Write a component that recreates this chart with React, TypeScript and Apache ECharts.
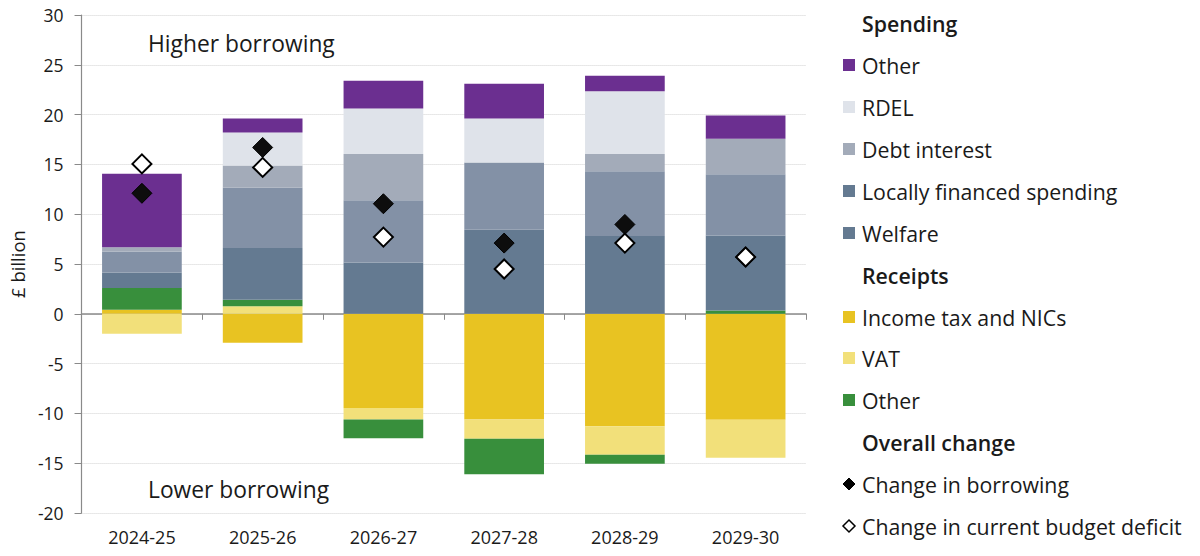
import React, { useEffect, useRef } from "react";
import * as echarts from "echarts";

const categories = ["2024-25", "2025-26", "2026-27", "2027-28", "2028-29", "2029-30"];

const incomeTax = [0.4, -2.9, -9.45, -10.6, -11.3, -10.65];
const vat = [-2.0, 0.75, -1.15, -1.95, -2.85, -3.8];
const otherReceipts = [2.18, 0.65, -1.9, -3.55, -0.9, 0.33];
const welfare = [1.57, 5.2, 5.15, 8.45, 7.8, 7.53];
const locallyFinanced = [2.1, 6.05, 6.25, 6.75, 6.5, 6.14];
const debtInterest = [0.44, 2.25, 4.65, 0, 1.75, 3.57];
const rdel = [0, 3.3, 4.55, 4.4, 6.29, 0];
const otherSpending = [7.37, 1.4, 2.8, 3.5, 1.55, 2.33];

const changeInBorrowing = [12.1, 16.7, 11.05, 7.1, 8.97, 5.7];
const changeInCBD = [15.05, 14.7, 7.7, 4.5, 7.1, 5.7];

const yTicks = { min: -20, max: 30, interval: 5 };

const FONT = "'Open Sans', Lato, sans-serif";
const TEXT = "#1a1a1a";

const C = {
  otherSpending: "#6b2f90",
  rdel: "#dfe3ea",
  debtInterest: "#a3abb9",
  locallyFinanced: "#8391a6",
  welfare: "#647a91",
  incomeTax: "#e8c322",
  vat: "#f2e07a",
  otherReceipts: "#388f3c",
};

export default function App() {
  const ref = useRef<HTMLDivElement>(null);

  useEffect(() => {
    if (!ref.current) return;
    const chart = echarts.init(ref.current, undefined, { renderer: "svg" });

    const barSeries = (name: string, data: number[], color: string) => ({
      name,
      type: "bar",
      stack: "total",
      data,
      barWidth: "66%",
      xAxisIndex: 0,
      yAxisIndex: 0,
      itemStyle: { color },
      emphasis: { disabled: true },
    });

    const legendX = 843;
    const textX = 862;
    const rows: { y: number; label: string; kind: string; color?: string }[] = [
      { y: 23, label: "Spending", kind: "header" },
      { y: 65, label: "Other", kind: "rect", color: C.otherSpending },
      { y: 107, label: "RDEL", kind: "rect", color: C.rdel },
      { y: 149, label: "Debt interest", kind: "rect", color: C.debtInterest },
      { y: 191, label: "Locally financed spending", kind: "rect", color: C.welfare },
      { y: 233, label: "Welfare", kind: "rect", color: C.welfare },
      { y: 275, label: "Receipts", kind: "header" },
      { y: 317, label: "Income tax and NICs", kind: "rect", color: C.incomeTax },
      { y: 358, label: "VAT", kind: "rect", color: C.vat },
      { y: 400, label: "Other", kind: "rect", color: C.otherReceipts },
      { y: 442, label: "Overall change", kind: "header" },
      { y: 484, label: "Change in borrowing", kind: "diamondBlack" },
      { y: 526, label: "Change in current budget deficit", kind: "diamondWhite" },
    ];

    const graphics: any[] = [];
    rows.forEach((r) => {
      graphics.push({
        type: "text",
        x: textX,
        y: r.y,
        style: {
          text: r.label,
          fill: TEXT,
          font: `${r.kind === "header" ? "600 " : ""}21.3px ${FONT}`,
          verticalAlign: "middle",
          align: "left",
        },
      });
      if (r.kind === "rect") {
        graphics.push({
          type: "rect",
          shape: { x: legendX, y: r.y - 6, width: 12, height: 12 },
          style: { fill: r.color },
        });
      } else if (r.kind === "diamondBlack" || r.kind === "diamondWhite") {
        const cx = legendX + 6;
        graphics.push({
          type: "polygon",
          shape: {
            points: [
              [cx, r.y - 6],
              [cx + 6, r.y],
              [cx, r.y + 6],
              [cx - 6, r.y],
            ],
          },
          style:
            r.kind === "diamondBlack"
              ? { fill: "#000000", stroke: "#000000", lineWidth: 1 }
              : { fill: "#ffffff", stroke: "#000000", lineWidth: 1.5 },
        });
      }
    });

    graphics.push({
      type: "text",
      x: 148,
      y: 43,
      style: { text: "Higher borrowing", fill: TEXT, font: `22.8px ${FONT}`, verticalAlign: "middle" },
    });
    graphics.push({
      type: "text",
      x: 148,
      y: 489,
      style: { text: "Lower borrowing", fill: TEXT, font: `22.8px ${FONT}`, verticalAlign: "middle" },
    });

    chart.setOption({
      animation: false,
      textStyle: { fontFamily: FONT },
      grid: { left: 77, right: 394, top: 15, bottom: 43, containLabel: false },
      xAxis: [
        {
          type: "category",
          data: categories,
          position: "bottom",
          axisLine: { show: false, onZero: false },
          axisTick: { show: false },
          axisLabel: { color: TEXT, fontSize: 18, margin: 15, fontFamily: FONT },
          splitLine: { show: false },
        },
        {
          type: "category",
          data: categories,
          position: "top",
          axisLine: { show: true, onZero: true, lineStyle: { color: "#8a8a8a", width: 1.5 } },
          axisTick: { show: true, inside: true, length: 6, lineStyle: { color: "#8a8a8a" } },
          axisLabel: { show: false },
          splitLine: { show: false },
        },
      ],
      yAxis: {
        type: "value",
        min: yTicks.min,
        max: yTicks.max,
        interval: yTicks.interval,
        name: "£ billion",
        nameLocation: "middle",
        nameGap: 48,
        nameRotate: 90,
        nameTextStyle: { color: TEXT, fontSize: 18.5, fontFamily: FONT },
        axisLine: { show: true, lineStyle: { color: "#8a8a8a", width: 1.2 } },
        axisTick: { show: true, length: 7, lineStyle: { color: "#8a8a8a" } },
        axisLabel: { color: TEXT, fontSize: 17.5, margin: 18, fontFamily: FONT },
        splitLine: { show: true, lineStyle: { color: "#d2d2d2", type: "dotted", width: 1 } },
      },
      series: [
        barSeries("Income tax and NICs", incomeTax, C.incomeTax),
        barSeries("VAT", vat, C.vat),
        barSeries("Other receipts", otherReceipts, C.otherReceipts),
        barSeries("Welfare", welfare, C.welfare),
        barSeries("Locally financed spending", locallyFinanced, C.locallyFinanced),
        barSeries("Debt interest", debtInterest, C.debtInterest),
        barSeries("RDEL", rdel, C.rdel),
        barSeries("Other spending", otherSpending, C.otherSpending),
        {
          name: "Change in borrowing",
          type: "scatter",
          data: changeInBorrowing,
          symbol: "diamond",
          symbolSize: [20, 20],
          itemStyle: { color: "#0d0d0d", borderColor: "#000000", borderWidth: 1, opacity: 1 },
          z: 5,
          emphasis: { disabled: true },
        },
        {
          name: "Change in current budget deficit",
          type: "scatter",
          data: changeInCBD,
          symbol: "diamond",
          symbolSize: [19, 19],
          itemStyle: { color: "#ffffff", borderColor: "#000000", borderWidth: 2, opacity: 1 },
          z: 6,
          emphasis: { disabled: true },
        },
      ],
      graphic: graphics,
    });

    return () => chart.dispose();
  }, []);

  return (
    <div
      ref={ref}
      style={{ position: "absolute", left: 0, top: 0, width: 1200, height: 556, background: "#fff" }}
    />
  );
}
